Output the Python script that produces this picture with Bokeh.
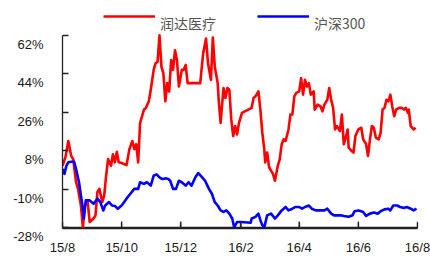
import pandas as pd
from bokeh.plotting import figure
from bokeh.models import FixedTicker, Legend, LegendItem, Range1d
from bokeh.embed import file_html
from bokeh.resources import INLINE

# ---- data (day offsets from 2015-08-01, cumulative return in %) ----
start_date = "2015-08-01"

red_name = "润达医疗"
red_day = [0, 3, 6, 9, 11, 14, 16, 19, 21, 23, 26, 28, 32, 34, 36, 38, 41, 43, 45, 47,
           50, 52, 54, 56, 58, 61, 66, 69, 72, 74, 76, 78, 80, 84, 86, 89, 91, 94, 96, 98,
           100, 102, 104, 106, 108, 110, 112, 114, 116, 118, 120, 123, 125, 127, 129, 133,
           142, 145, 148, 150, 153, 155, 157, 160, 161, 163, 166, 168, 170, 172, 174, 176,
           178, 180, 182, 185, 195, 197, 199, 202, 204, 206, 208, 209, 211, 213, 215, 217,
           219, 222, 224, 226, 228, 230, 233, 235, 237, 239, 241, 244, 246, 248, 250, 252,
           254, 256, 259, 260, 263, 266, 268, 270, 273, 275, 277, 279, 281, 283, 286, 288,
           290, 292, 294, 295, 298, 300, 302, 305, 308, 310, 313, 315, 317, 319, 321, 323,
           326, 328, 330, 332, 334, 336, 338, 340, 342, 344, 347, 350, 352, 354, 356, 357,
           359, 362, 364]
red_val = [0.9, 4.8, 12.5, 5.5, 4.0, -6.8, -9.9, -17.7, -28.0, -17.7, -16.1, -25.4, -23.8, -22.3,
           -11.4, -9.9, -16.1, -13.0, -3.7, 4.0,
           0.9, 6.3, 2.5, 7.4, 2.5, 2.2, 1.2, 8.7, 12.5, 8.7, 11.0, 2.5, 21.0, 27.2, 28.0, 31.1,
           36.5, 45.8, 48.9, 49.6,
           62.0, 47.3, 44.2, 31.1, 39.6, 35.7, 50.4, 45.8, 55.0, 50.4, 38.0, 45.8, 45.8, 48.1,
           39.6, 39.6,
           39.6, 53.5, 60.5, 48.9, 41.1, 60.9, 47.3, 39.6, 31.8, 21.0, 37.3, 32.6, 37.3, 36.5,
           22.6, 14.8,
           19.5, 15.6, 21.0, 25.7, 28.0, 32.6, 33.4, 35.7, 27.2, 16.4, 8.7, 2.5, 7.1, 0.2, -1.4,
           -2.9,
           -6.1, 0.9, 4.0, 11.0, 13.3, 12.5, 17.9, 24.9, 24.9, 33.4, 35.0, 35.7, 41.9, 34.2,
           41.1, 38.0,
           39.6, 34.2, 35.7, 27.2, 29.5, 28.7, 26.4, 29.5, 31.8, 37.3, 31.8, 28.0, 17.9, 19.5,
           17.1, 24.9,
           11.0, 14.1, 17.9, 9.4, 7.9, 7.1, 14.8, 17.9, 18.7, 13.3, 11.0, 5.5, 13.3, 19.5, 18.7,
           14.1,
           13.3, 16.4, 27.2, 28.0, 31.8, 31.1, 34.2, 28.7, 24.1, 27.2, 28.0, 28.0, 27.2, 28.0,
           25.7, 27.2,
           19.5, 17.9, 18.7]

blue_name = "沪深300"
blue_day = [0, 2, 4, 6, 9, 12, 14, 17, 19, 21, 22, 24, 28, 32, 36, 39, 42, 44, 48, 51, 54, 57,
            61, 66, 70, 74, 78, 80, 84, 87, 91, 94, 97, 100, 103, 107, 109, 111, 114, 117, 120,
            123, 127, 130, 133, 137, 140, 144, 147, 151, 154, 157, 160, 163, 166, 169, 172, 175,
            177, 180, 184, 194, 195, 199, 202, 204, 206, 208, 211, 215, 219, 222, 226, 230, 233,
            237, 240, 244, 247, 250, 254, 257, 261, 264, 270, 273, 277, 280, 283, 287, 290, 295,
            299, 301, 305, 308, 310, 313, 317, 321, 325, 328, 332, 336, 338, 341, 345, 348, 352,
            355, 359, 362, 365]
blue_val = [-0.6, -2.9, 0.9, 2.5, 2.8, 2.8, -0.6, -6.8, -13.0, -19.2, -23.8, -15.3, -15.3, -16.9,
            -14.5, -16.1, -20.0, -17.7, -16.1, -17.7, -17.9, -19.2,
            -17.7, -14.5, -12.2, -9.9, -9.9, -6.8, -7.6, -6.8, -8.4, -3.7, -3.1, -4.5, -5.3, -5.0,
            -5.3, -6.1, -9.9, -9.9, -6.1,
            -6.8, -8.4, -6.8, -8.4, -4.5, -2.5, -4.5, -6.1, -9.9, -12.2, -16.1, -17.7, -20.0,
            -20.7, -20.0, -21.5, -23.8,
            -28.0, -25.4, -25.4, -25.8, -23.8, -23.0, -21.5, -24.6, -26.9, -28.0, -22.3, -21.5,
            -23.8, -22.3, -20.0, -18.4, -20.0,
            -19.2, -18.4, -18.4, -19.2, -18.4, -17.7, -19.2, -20.0, -20.0, -20.0, -19.2, -21.5,
            -22.3, -22.3, -22.3, -22.6, -23.0,
            -22.3, -20.4, -20.0, -20.4, -20.7, -22.6, -21.5, -21.0, -21.5, -20.4, -19.5, -19.2,
            -20.0, -17.7, -17.7, -18.4, -18.9,
            -18.4, -19.2, -20.0, -19.2]

x_tick_dates = ["2015-08-01", "2015-10-01", "2015-12-01", "2016-02-01",
                "2016-04-01", "2016-06-01", "2016-08-01"]
x_tick_labels = ["15/8", "15/10", "15/12", "16/2", "16/4", "16/6", "16/8"]
y_ticks = [-28, -10, 8, 26, 44, 62]
y_tick_labels = ["-28%", "-10%", "8%", "26%", "44%", "62%"]

# ---- layout (pixels) ----
W, H = 430, 257
ML, MR, MB = 62, 13, 27
AX_TOP = 35          # where the 62% tick sits
FRAME_TOP = 6        # frame extends above the axis so the legend can live inside it
t0 = pd.Timestamp(start_date)
x_ticks = [(pd.Timestamp(d) - t0).days for d in x_tick_dates]

axis_px = 194
per_px = (y_ticks[-1] - y_ticks[0]) / axis_px
y_end = y_ticks[-1] + (AX_TOP - FRAME_TOP) * per_px
y_start = y_ticks[0] - 1.0 * per_px

p = figure(width=W, height=H, output_backend="svg", toolbar_location=None,
           x_range=Range1d(x_ticks[0], x_ticks[-1]),
           y_range=Range1d(y_start, y_end),
           min_border_left=ML, min_border_right=MR, min_border_top=FRAME_TOP,
           min_border_bottom=MB)
p.outline_line_color = None
p.xgrid.grid_line_color = None
p.ygrid.grid_line_color = None
p.background_fill_color = "white"

# x-axis baseline at the lowest tick value, with inward tick marks at each date tick
p.segment(x0=[x_ticks[0]], y0=[y_ticks[0]], x1=[x_ticks[-1]], y1=[y_ticks[0]],
          line_color="#222222", line_width=1.5)
p.segment(x0=x_ticks, y0=[y_ticks[0]] * len(x_ticks), x1=x_ticks,
          y1=[y_ticks[0] + 6 * per_px] * len(x_ticks), line_color="#222222", line_width=1.3)

r_red = p.line(red_day, red_val, line_color="#ff0000", line_width=2.6, line_join="round")
r_blue = p.line(blue_day, blue_val, line_color="#0000ff", line_width=2.6, line_join="round")

tick_font = "Liberation Sans"
for ax in (p.xaxis[0], p.yaxis[0]):
    ax.axis_line_color = "#222222"
    ax.axis_line_width = 1.3
    ax.major_tick_line_color = "#222222"
    ax.major_tick_line_width = 1.3
    ax.major_tick_in = 6
    ax.major_tick_out = 0
    ax.minor_tick_line_color = None
    ax.major_label_text_font = tick_font
    ax.major_label_text_font_size = "13px"
    ax.major_label_text_color = "#1a1a1a"

p.xaxis[0].ticker = FixedTicker(ticks=x_ticks)
p.xaxis[0].bounds = (x_ticks[0], x_ticks[-1])
p.xaxis[0].major_label_overrides = {t: l for t, l in zip(x_ticks, x_tick_labels)}
p.xaxis[0].major_label_standoff = 11

# y labels sit about half a line below their tick in the original
p.yaxis[0].ticker = FixedTicker(ticks=y_ticks)
p.yaxis[0].bounds = (y_ticks[0], y_ticks[-1])
p.yaxis[0].major_label_overrides = {t: "\n" + l for t, l in zip(y_ticks, y_tick_labels)}
p.yaxis[0].major_label_standoff = 19

# legend: line keys, with their names set a little lower (as in the original)
k_red = p.line([], [], line_color="#ff0000", line_alpha=0)
k_blue = p.line([], [], line_color="#0000ff", line_alpha=0)
frame_h = H - MB - FRAME_TOP
common = dict(orientation="horizontal", glyph_width=52, glyph_height=4, label_height=16,
              label_standoff=5, label_width=90, spacing=7, padding=0, margin=0,
              border_line_color=None, background_fill_alpha=0,
              label_text_font="Noto Sans CJK SC", label_text_font_size="14px")
leg_keys = Legend(items=[LegendItem(label=" ", renderers=[r_red]),
                         LegendItem(label=" ", renderers=[r_blue])],
                  location=(41, frame_h - 20), **common)
leg_names = Legend(items=[LegendItem(label=red_name, renderers=[k_red]),
                          LegendItem(label=blue_name, renderers=[k_blue])],
                   location=(41, frame_h - 29), label_text_color="#555555", **common)
p.add_layout(leg_keys, "center")
p.add_layout(leg_names, "center")

open("out.html", "w").write(file_html(p, INLINE))
